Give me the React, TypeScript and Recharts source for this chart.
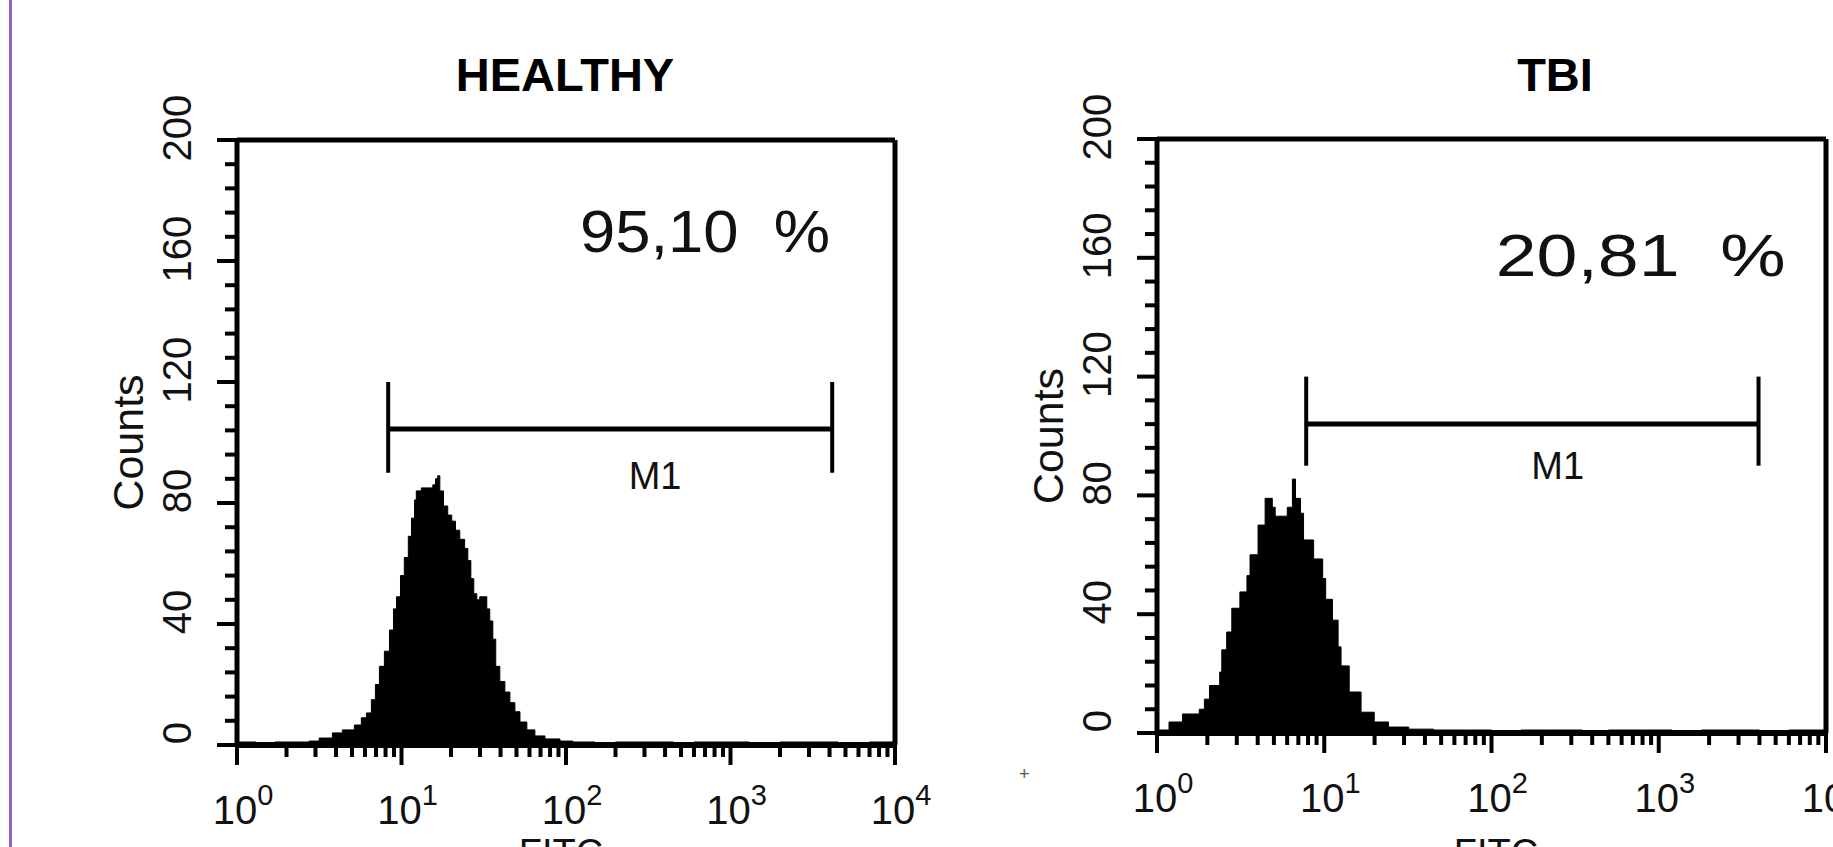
import {
  Area,
  ComposedChart,
  ReferenceDot,
  ReferenceLine,
  XAxis,
  YAxis,
} from "recharts";

const FONT = '"Liberation Sans", Arial, Helvetica, sans-serif';

// FITC channel (log axis) and cell counts
const healthyFitc = [
  1, 1.3, 1.7, 2.2, 2.75, 3.16, 3.8, 4.37, 5.17, 5.7, 6.12, 6.56, 6.94, 7.34,
  7.87, 8.45, 8.94, 9.33, 9.86, 10.4, 11.0, 11.5, 12.0, 12.3, 13.2, 14.4, 15.5,
  16.1, 16.6, 17.1, 18.0, 19.1, 20.2, 21.3, 22.6, 24.2, 25.3, 26.4, 27.5, 28.7,
  29.9, 31.6, 33.0, 34.4, 35.9, 37.4, 39.6, 42.5, 45.6, 48.9, 52.5, 57.8, 64.7,
  74.5, 91.9, 110, 150, 200, 300, 450, 600, 900, 1300, 2000, 3000, 4500, 7000,
  10000,
];
const healthyCounts = [
  1, 0, 1, 1, 1.3, 2.3, 4, 5, 6.6, 9, 10.6, 15, 20, 26, 31, 38, 45, 49, 56, 62,
  69, 75, 81, 84, 85, 85, 86, 88, 89, 84, 79, 76, 74, 71, 68, 65, 61, 55, 50, 48,
  49, 49, 45, 41, 35, 26, 21, 17.5, 14, 11, 7.6, 5, 3, 2, 1.3, 1, 0, 1, 1, 0, 1,
  1, 0, 1, 1, 0, 1, 1,
];

const tbiFitc = [
  1, 1.03, 1.18, 1.42, 1.79, 1.92, 2.06, 2.37, 2.44, 2.61, 2.8, 3.13, 3.45, 3.6,
  4.02, 4.43, 4.89, 5.09, 5.69, 6.01, 6.45, 6.73, 7.21, 7.52, 8.64, 9.79, 10.2,
  11.2, 12.1, 12.6, 14.1, 16.6, 19.9, 24.2, 32.0, 45, 70, 100, 150, 220, 350,
  500, 800, 1200, 1800, 2700, 4000, 6000, 10000,
];
const tbiCounts = [
  0.7, 1, 3.7, 6.4, 8, 11.4, 16, 20.5, 28, 34, 42, 47.5, 53, 60, 70, 79, 76, 73,
  73, 76, 85.5, 79, 74, 65, 58.6, 52, 45, 38, 29, 22.6, 13.8, 7, 3.7, 2, 1.3, 1,
  1, 0, 1, 1, 0, 1, 1, 0, 1, 1, 0, 1, 1,
];

// axes
const fitcTicks = [
  1, 2, 3, 4, 5, 6, 7, 8, 9, 10, 20, 30, 40, 50, 60, 70, 80, 90, 100, 200, 300,
  400, 500, 600, 700, 800, 900, 1000, 2000, 3000, 4000, 5000, 6000, 7000, 8000,
  9000, 10000,
];
const fitcDecades = [1, 10, 100, 1000, 10000];
const fitcExponents = ["0", "1", "2", "3", "4"];
const countTicks = [
  0, 8, 16, 24, 32, 40, 48, 56, 64, 72, 80, 88, 96, 104, 112, 120, 128, 136, 144,
  152, 160, 168, 176, 184, 192, 200,
];
const countLabels = [0, 40, 80, 120, 160, 200];

// M1 marker: [start, end] on FITC, bar level and cap range on counts
const healthyGate = [8.3, 4150];
const tbiGate = [7.8, 3950];
const gateLevel = [104.5, 104];
const gateCap = [90, 120];

const percentText = ["95,10\u00a0\u00a0%", "20,81\u00a0\u00a0%"];

const Y_AXIS_W = 120;
const X_AXIS_H = 90;
const INK = "#111";

function FitcTick(props: any) {
  const { x, y, payload } = props;
  const i = fitcDecades.indexOf(payload.value);
  const major = i >= 0;
  return (
    <g>
      <line x1={x} x2={x} y1={y} y2={y + (major ? 20 : 12)} stroke="#000" strokeWidth={4} />
      {major && (
        <text x={x + 6} y={y + 79} textAnchor="middle" fontSize={40} fill={INK} fontFamily={FONT}>
          10
          <tspan dy={-19} fontSize={29}>
            {fitcExponents[i]}
          </tspan>
        </text>
      )}
    </g>
  );
}

function CountTick(props: any) {
  const { x, y, payload } = props;
  const major = countLabels.includes(payload.value);
  const tx = x - 60;
  const ty = y - 12;
  return (
    <g>
      <line x1={x - (major ? 20 : 12)} x2={x} y1={y} y2={y} stroke="#000" strokeWidth={4} />
      {major && (
        <text
          x={tx}
          y={ty}
          transform={`rotate(-90 ${tx} ${ty})`}
          textAnchor="middle"
          dominantBaseline="central"
          fontSize={40}
          fill={INK}
          fontFamily={FONT}
        >
          {payload.value}
        </text>
      )}
    </g>
  );
}

interface PanelProps {
  fitc: number[];
  counts: number[];
  gate: number[];
  level: number;
  percent: string;
  percentAt: [number, number];
  percentWidth: number;
  m1At: [number, number];
  width: number;
  height: number;
  plot: { top: number; right: number; bottom: number; left: number };
}

function Histogram({
  fitc,
  counts,
  gate,
  level,
  percent,
  percentAt,
  percentWidth,
  m1At,
  width,
  height,
  plot,
}: PanelProps) {
  const data = fitc.map((x, i) => ({ x, count: counts[i] }));
  const margin = {
    top: plot.top,
    right: plot.right,
    bottom: plot.bottom - X_AXIS_H,
    left: plot.left - Y_AXIS_W,
  };
  return (
    <ComposedChart width={width} height={height} data={data} margin={margin} style={{ fontFamily: FONT }}>
      <XAxis
        type="number"
        dataKey="x"
        scale="log"
        domain={[1, 10000]}
        allowDataOverflow
        ticks={fitcTicks}
        interval={0}
        tick={(p: any) => <FitcTick {...p} />}
        tickLine={false}
        tickSize={0}
        tickMargin={0}
        height={X_AXIS_H}
        axisLine={{ stroke: "#000", strokeWidth: 6 }}
      />
      <YAxis
        type="number"
        domain={[0, 200]}
        allowDataOverflow
        ticks={countTicks}
        interval={0}
        tick={(p: any) => <CountTick {...p} />}
        tickLine={false}
        tickSize={0}
        tickMargin={0}
        width={Y_AXIS_W}
        axisLine={{ stroke: "#000", strokeWidth: 5 }}
      />
      <Area
        type="stepAfter"
        dataKey="count"
        stroke="#000"
        strokeWidth={1}
        fill="#000"
        fillOpacity={1}
        baseValue={0}
        dot={false}
        activeDot={false}
        isAnimationActive={false}
      />
      <ReferenceLine y={200} stroke="#000" strokeWidth={5} />
      <ReferenceLine x={10000} stroke="#000" strokeWidth={5} />
      <ReferenceLine
        segment={[{ x: gate[0], y: level }, { x: gate[1], y: level }]}
        stroke="#000"
        strokeWidth={5}
      />
      <ReferenceLine
        segment={[{ x: gate[0], y: gateCap[0] }, { x: gate[0], y: gateCap[1] }]}
        stroke="#000"
        strokeWidth={4}
      />
      <ReferenceLine
        segment={[{ x: gate[1], y: gateCap[0] }, { x: gate[1], y: gateCap[1] }]}
        stroke="#000"
        strokeWidth={4}
      />
      <ReferenceDot
        x={m1At[0]}
        y={m1At[1]}
        r={0}
        shape={(p: any) => (
          <text x={p.cx} y={p.cy} textAnchor="middle" fontSize={38} fill={INK} fontFamily={FONT}>
            M1
          </text>
        )}
      />
      <ReferenceDot
        x={percentAt[0]}
        y={percentAt[1]}
        r={0}
        shape={(p: any) => (
          <text
            x={p.cx}
            y={p.cy}
            textAnchor="middle"
            fontSize={60}
            fill={INK}
            fontFamily={FONT}
            textLength={percentWidth}
            lengthAdjust="spacingAndGlyphs"
          >
            {percent}
          </text>
        )}
      />
      <ReferenceDot
        x={1}
        y={100}
        r={0}
        shape={(p: any) => (
          <text
            x={p.cx - 109}
            y={p.cy}
            transform={`rotate(-90 ${p.cx - 109} ${p.cy})`}
            textAnchor="middle"
            dominantBaseline="central"
            fontSize={43}
            fill={INK}
            fontFamily={FONT}
          >
            Counts
          </text>
        )}
      />
    </ComposedChart>
  );
}

const titleStyle: React.CSSProperties = {
  position: "absolute",
  width: 400,
  textAlign: "center",
  fontFamily: FONT,
  fontWeight: "bold",
  fontSize: 47,
  lineHeight: "47px",
  color: "#000",
};

const axisTitleStyle: React.CSSProperties = {
  position: "absolute",
  width: 200,
  textAlign: "center",
  fontFamily: FONT,
  fontSize: 38,
  lineHeight: "38px",
  color: INK,
};

export default function App() {
  return (
    <div
      style={{
        position: "absolute",
        left: 0,
        top: 0,
        width: 1833,
        height: 847,
        overflow: "hidden",
        background: "#fff",
      }}
    >
      <div style={{ position: "absolute", left: 9, top: 0, width: 3, height: 847, background: "#8f63cc" }} />
      <div style={{ ...titleStyle, left: 365, top: 51 }}>HEALTHY</div>
      <div style={{ ...titleStyle, left: 1355, top: 51 }}>TBI</div>

      <div style={{ position: "absolute", left: 0, top: 0 }}>
        <Histogram
          fitc={healthyFitc}
          counts={healthyCounts}
          gate={healthyGate}
          level={gateLevel[0]}
          percent={percentText[0]}
          percentAt={[700, 163]}
          percentWidth={250}
          m1At={[348, 84.6]}
          width={960}
          height={847}
          plot={{ top: 140, right: 65, bottom: 102, left: 237 }}
        />
      </div>
      <div style={{ position: "absolute", left: 960, top: 0 }}>
        <Histogram
          fitc={tbiFitc}
          counts={tbiCounts}
          gate={tbiGate}
          level={gateLevel[1]}
          percent={percentText[1]}
          percentAt={[780, 154]}
          percentWidth={290}
          m1At={[249, 85.5]}
          width={873}
          height={847}
          plot={{ top: 139, right: 7, bottom: 114, left: 197 }}
        />
      </div>

      <div style={{ ...axisTitleStyle, left: 461, top: 834 }}>FITC</div>
      <div style={{ ...axisTitleStyle, left: 1396, top: 834 }}>FITC</div>
      <div style={{ position: "absolute", left: 1019, top: 764, fontFamily: FONT, fontSize: 18, color: "#555" }}>
        +
      </div>
    </div>
  );
}
